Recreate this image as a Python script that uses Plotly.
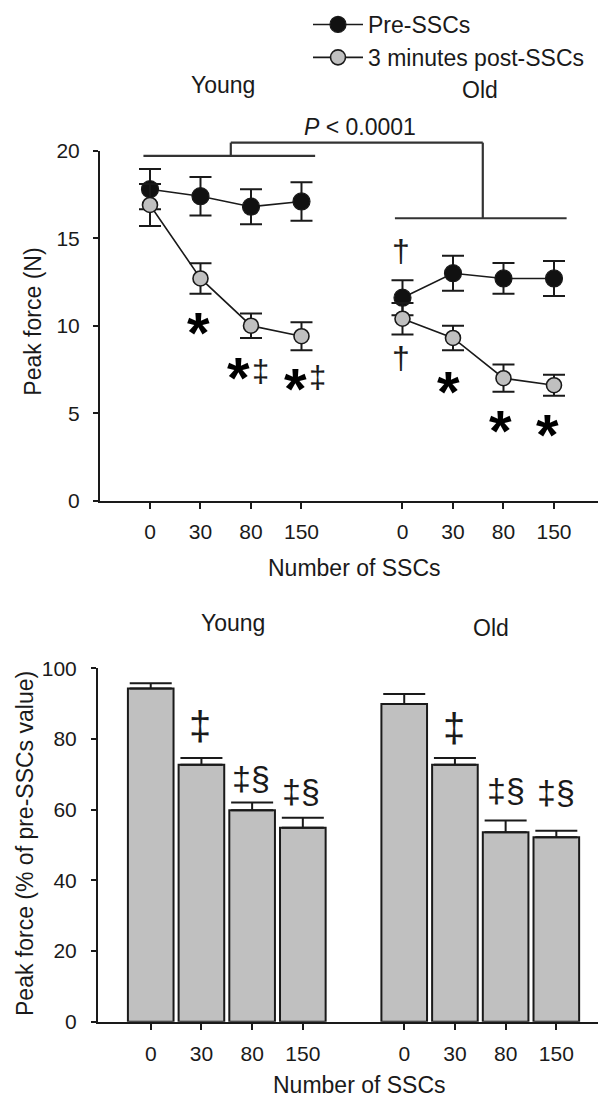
import plotly.graph_objects as go

# ---------------- data ----------------
doses = ["0", "30", "80", "150"]
young_pos = [0, 1, 2, 3]
old_pos = [5, 6, 7, 8]

young_pre = [17.8, 17.4, 16.8, 17.1]
young_pre_err = [1.15, 1.1, 1.0, 1.1]
young_post = [16.9, 12.7, 10.0, 9.4]
young_post_err = [1.2, 0.87, 0.7, 0.8]

old_pre = [11.6, 13.0, 12.7, 12.7]
old_pre_err = [1.0, 1.0, 0.88, 1.0]
old_post = [10.4, 9.3, 7.0, 6.6]
old_post_err = [0.9, 0.7, 0.78, 0.6]

young_pct = [94.3, 72.7, 59.8, 54.9]
young_pct_err = [1.5, 1.9, 2.2, 2.8]
old_pct = [89.9, 72.7, 53.6, 52.2]
old_pct_err = [2.8, 1.9, 3.3, 1.8]

# ---------------- style ----------------
W, H = 606, 1098
OFF = 8  # page body margin offset
FONT = "Liberation Sans, Arial, Helvetica, sans-serif"
INK = "#1a1a1a"
GRAY = "#c0c0c0"

def px_x(p):
    return (p - OFF) / W

def px_y(p):
    return 1 - (p - OFF) / H

TOP_X_RANGE = [-0.99, 9.01]
TOP_Y_RANGE = [0, 20]
BOT_X_RANGE = [-1.04, 8.96]
BOT_Y_RANGE = [0, 100]

fig = go.Figure()

def joined(a, b, fill=None):
    return a + [fill] + b

# Line chart traces
fig.add_trace(go.Scatter(
    x=joined(young_pos, old_pos), y=joined(young_pre, old_pre),
    name="Pre-SSCs", mode="lines+markers", connectgaps=False,
    line=dict(color=INK, width=1.6),
    marker=dict(size=17, color="#111111", line=dict(color=INK, width=1.2)),
    error_y=dict(type="data", array=joined(young_pre_err, old_pre_err, 0),
                 color=INK, thickness=2, width=11),
    xaxis="x", yaxis="y"))
fig.add_trace(go.Scatter(
    x=joined(young_pos, old_pos), y=joined(young_post, old_post),
    name="3 minutes post-SSCs", mode="lines+markers", connectgaps=False,
    line=dict(color=INK, width=1.6),
    marker=dict(size=15, color=GRAY, line=dict(color=INK, width=1.6)),
    error_y=dict(type="data", array=joined(young_post_err, old_post_err, 0),
                 color=INK, thickness=2, width=11),
    xaxis="x", yaxis="y"))

# Bar chart trace
fig.add_trace(go.Bar(
    x=young_pos + old_pos, y=young_pct + old_pct, width=0.9,
    marker=dict(color=GRAY, line=dict(color=INK, width=2)),
    error_y=dict(type="data", symmetric=False,
                 array=young_pct_err + old_pct_err,
                 arrayminus=[0] * 8, color=INK, thickness=2, width=21),
    showlegend=False, xaxis="x2", yaxis="y2"))

axis_common = dict(showline=True, linewidth=2, linecolor=INK, ticks="outside",
                   tickwidth=2, tickcolor=INK, showgrid=False, zeroline=False,
                   automargin=False,
                   tickfont=dict(family=FONT, size=21, color=INK), fixedrange=True)

fig.update_layout(
    width=W, height=H, autosize=False,
    margin=dict(l=0, r=0, t=0, b=0, autoexpand=False),
    paper_bgcolor="white", plot_bgcolor="white",
    font=dict(family=FONT, size=23, color=INK),
    xaxis=dict(domain=[px_x(100), px_x(605)], range=TOP_X_RANGE, anchor="y",
               tickvals=young_pos + old_pos, ticktext=doses + doses,
               ticklen=6, ticklabelstandoff=5, **axis_common),
    yaxis=dict(domain=[px_y(500.7), px_y(150.7)], range=TOP_Y_RANGE, anchor="x",
               tickvals=[0, 5, 10, 15, 20], ticklen=5, ticklabelstandoff=9,
               **axis_common),
    xaxis2=dict(domain=[px_x(98), px_x(605)], range=BOT_X_RANGE, anchor="y2",
                tickvals=young_pos + old_pos, ticktext=doses + doses,
                ticklen=6, ticklabelstandoff=6, **axis_common),
    yaxis2=dict(domain=[px_y(1021.7), px_y(668.3)], range=BOT_Y_RANGE, anchor="x2",
                tickvals=[0, 20, 40, 60, 80, 100], ticklen=5, ticklabelstandoff=10,
                **axis_common),
    legend=dict(x=px_x(308), y=px_y(3), xanchor="left", yanchor="top",
                font=dict(family=FONT, size=23, color=INK),
                bgcolor="rgba(0,0,0,0)", itemwidth=50, tracegroupgap=0),
    bargap=0.1,
)

# ---------------- bracket (P < 0.0001) ----------------
def xd(v, rng=TOP_X_RANGE):
    return (v - rng[0]) / (rng[1] - rng[0])

def yd(v, rng=TOP_Y_RANGE):
    return (v - rng[0]) / (rng[1] - rng[0])

bracket_lines = [
    (-0.13, 19.71, 3.27, 19.71),
    (1.6, 19.71, 1.6, 20.46),
    (1.6, 20.46, 6.59, 20.46),
    (6.59, 20.46, 6.59, 16.14),
    (4.85, 16.14, 8.25, 16.14),
]
for x0, y0, x1, y1 in bracket_lines:
    fig.add_shape(type="line", xref="x domain", yref="y domain",
                  x0=xd(x0), y0=yd(y0), x1=xd(x1), y1=yd(y1),
                  line=dict(color="#333333", width=2.2))

# ---------------- annotations ----------------
def txt(text, x, y, size, xref="paper", yref="paper", yshift=0, **kw):
    fig.add_annotation(text=text, x=x, y=y, xref=xref, yref=yref,
                       showarrow=False, xanchor="center", yanchor="middle",
                       yshift=yshift, font=dict(family=FONT, size=size, color=INK), **kw)

# labels
txt("Young", px_x(223), px_y(85), 23)
txt("Old", px_x(480), px_y(90), 23)
txt("<i>P</i> &lt; 0.0001", px_x(360), px_y(126.7), 23)
txt("Number of SSCs", px_x(354), px_y(568), 23)
txt("Peak force (N)", px_x(33), px_y(321.7), 23, textangle=-90)
txt("Young", px_x(233), px_y(623.3), 23)
txt("Old", px_x(490.8), px_y(628.3), 23)
txt("Number of SSCs", px_x(359), px_y(1085), 23)
txt("Peak force (% of pre-SSCs value)", px_x(25), px_y(844), 23, textangle=-90)

# significance symbols, top panel (glyph centres in data units)
AST = 58
ast_marks = [(0.97, 10.18), (1.75, 7.61), (2.89, 6.94), (5.92, 6.8), (6.95, 4.56), (7.87, 4.33)]
for x, y in ast_marks:
    fig.add_annotation(text="<b>*</b>", x=x, y=y, xref="x", yref="y", showarrow=False,
                       xanchor="center", yanchor="middle", yshift=-0.25 * AST + 5,
                       font=dict(family=FONT, size=AST, color="#000000"))

dd_marks = [(2.19, 7.28), (3.32, 6.94)]
for x, y in dd_marks:
    txt("‡", x, y, 31, xref="x", yref="y", yshift=2)

dag_marks = [(4.97, 14.18), (4.97, 8.04)]
for x, y in dag_marks:
    txt("†", x, y, 32, xref="x", yref="y", yshift=2)

# significance symbols, bottom panel
bot_marks = [("‡", 0.97, 83.0, 40), ("‡§", 1.97, 68.4, 34), ("‡§", 2.96, 64.6, 34),
             ("‡", 5.99, 82.6, 40), ("‡§", 7.0, 64.9, 34), ("‡§", 8.0, 64.4, 34)]
for t, x, y, s in bot_marks:
    txt(t, x, y, s, xref="x2", yref="y2", yshift=2)

fig.write_html("out.html")
